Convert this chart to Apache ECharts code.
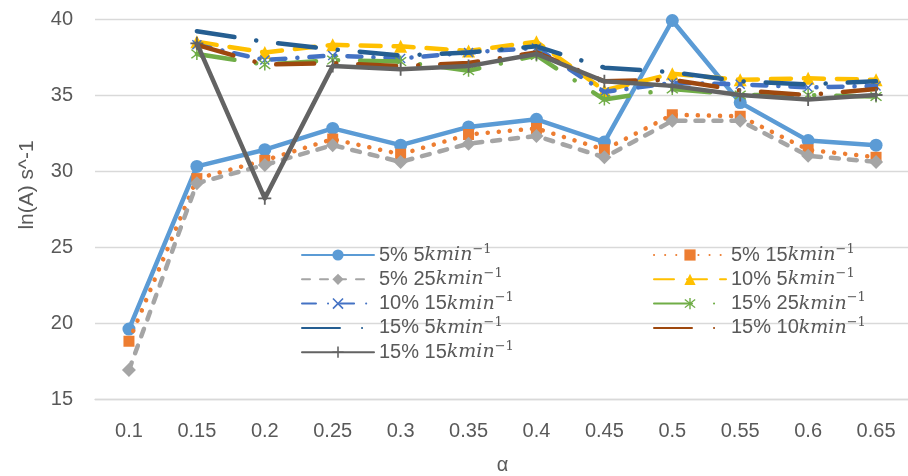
<!DOCTYPE html>
<html>
<head>
<meta charset="utf-8">
<title>ln(A) vs α</title>
<script src="https://cdn.jsdelivr.net/npm/echarts@6.0.0/dist/echarts.min.js"></script>
<style>
  html, body { margin: 0; padding: 0; background: #ffffff; }
  #chart { width: 908px; height: 476px; }
</style>
</head>
<body>
<div id="chart"></div>
<script>
// α categories along the x axis
const alpha = ['0.1', '0.15', '0.2', '0.25', '0.3', '0.35', '0.4', '0.45', '0.5', '0.55', '0.6', '0.65'];

// ln(A) values per heating-rate / concentration series
const s5_5k   = [19.6, 30.3, 31.4, 32.8, 31.7, 32.9, 33.4, 31.9, 39.9, 34.5, 32.0, 31.7];
const s5_15k  = [18.8, 29.5, 30.7, 32.1, 31.1, 32.4, 32.8, 31.4, 33.7, 33.6, 31.4, 30.9];
const s5_25k  = [16.9, 29.2, 30.4, 31.7, 30.6, 31.8, 32.3, 30.9, 33.3, 33.3, 31.0, 30.6];
const s10_5k  = [null, 38.5, 37.8, 38.3, 38.2, 37.9, 38.5, 35.3, 36.4, 36.0, 36.1, 36.0];
const s10_15k = [null, 38.3, 37.3, 37.6, 37.4, 37.8, 38.1, 35.2, 35.8, 35.7, 35.5, 35.6];
const s15_25k = [null, 37.7, 37.0, 37.3, 37.2, 36.6, 37.6, 34.7, 35.4, 35.0, 35.0, 34.9];
const s15_5k  = [null, 39.2, 38.5, 38.0, 37.6, 37.8, 38.2, 36.8, 36.5, 35.9, 35.7, 35.9];
const s15_10k = [null, 38.3, 37.0, 37.1, 36.9, 37.1, 37.8, 35.9, 36.0, 35.3, 35.0, 35.4];
const s15_15k = [null, 38.4, 28.2, 36.9, 36.7, 36.9, 37.7, 35.9, 35.6, 35.0, 34.7, 35.0];

// y axis ticks
const yTicks = [15, 20, 25, 30, 35, 40];

const UNIT = 'kmin−1';
const names = [
  '5% 5' + UNIT, '5% 15' + UNIT, '5% 25' + UNIT,
  '10% 5' + UNIT, '10% 15' + UNIT, '15% 25' + UNIT,
  '15% 5' + UNIT, '15% 10' + UNIT, '15% 15' + UNIT
];
const values = [s5_5k, s5_15k, s5_25k, s10_5k, s10_15k, s15_25k, s15_5k, s15_10k, s15_15k];

// marker shapes
const X_MARK = 'path://M1,0L5,4L9,0L10,1L6,5L10,9L9,10L5,6L1,10L0,9L4,5L0,1Z';
const STAR_MARK = 'path://M1,1L5,4.2L9,1L9.8,1.8L5.8,5L9.8,8.2L9,9L5,5.8L1,9L0.2,8.2L4.2,5L0.2,1.8Z M4.4,0L5.6,0L5.6,10L4.4,10Z';
const PLUS_MARK = 'path://M4.3,0L5.7,0L5.7,4.3L10,4.3L10,5.7L5.7,5.7L5.7,10L4.3,10L4.3,5.7L0,5.7L0,4.3L4.3,4.3Z';

const styles = [
  { color: '#5B9BD5', dash: 'solid',              symbol: 'circle',   size: 13 },
  { color: '#ED7D31', dash: [0.1, 11],            symbol: 'rect',     size: 11 },
  { color: '#A5A5A5', dash: [8, 10],              symbol: 'diamond',  size: 14 },
  { color: '#FFC000', dash: [20, 13],             symbol: 'triangle', size: 13 },
  { color: '#4472C4', dash: [14, 12, 0.1, 12],    symbol: X_MARK,     size: 10 },
  { color: '#70AD47', dash: [38, 22, 0.1, 22],    symbol: STAR_MARK,  size: 12 },
  { color: '#255E91', dash: [38, 22, 0.1, 22],    symbol: 'none',     size: 0 },
  { color: '#9E480E', dash: [38, 22, 0.1, 22],    symbol: 'none',     size: 0 },
  { color: '#636363', dash: 'solid',              symbol: PLUS_MARK,  size: 13 }
];

const TEXT = '#595959';
const FONT = 'Liberation Sans';
const GRID_LINE = '#D9D9D9';

const series = names.map((name, i) => {
  const st = styles[i];
  return {
    name: name,
    type: 'line',
    data: values[i],
    symbol: st.symbol,
    symbolSize: st.size,
    showSymbol: st.symbol !== 'none',
    lineStyle: { color: st.color, width: 4.5, type: st.dash, cap: 'round', join: 'round' },
    itemStyle: { color: st.color, borderColor: st.color, borderWidth: 0 },
    emphasis: { disabled: true },
    animation: false,
    z: 2 + i
  };
});

const legendText = {
  color: TEXT,
  fontFamily: FONT,
  fontSize: 20,
  rich: {
    a: { fontFamily: FONT, fontSize: 20, color: TEXT, lineHeight: 24 },
    k: { fontFamily: 'DejaVu Serif', fontStyle: 'italic', fontSize: 19, color: TEXT, lineHeight: 24 },
    s: { fontFamily: 'DejaVu Serif', fontSize: 13, color: TEXT, lineHeight: 10, verticalAlign: 'top' }
  }
};
const legendFormatter = (name) => {
  const prefix = name.replace(UNIT, '');
  return '{a|' + prefix + '}{k|kmin}{s|−1}';
};

// legend entry; series drawn without markers get a line-only key
const legendItem = (i) => {
  if (styles[i].symbol === 'none') {
    return {
      name: names[i],
      itemStyle: { color: 'rgba(0,0,0,0)', borderColor: 'rgba(0,0,0,0)', borderWidth: 0, opacity: 0 }
    };
  }
  return { name: names[i] };
};

const legendBase = {
  orient: 'vertical',
  top: 243,
  padding: 0,
  itemWidth: 72,
  itemHeight: 14,
  itemGap: 2.3,
  textStyle: legendText,
  formatter: legendFormatter,
  selectedMode: false
};

const chart = echarts.init(document.getElementById('chart'), null, { renderer: 'canvas' });
chart.setOption({
  backgroundColor: '#ffffff',
  animation: false,
  grid: { left: 95, top: 19, width: 815, bottom: 77, containLabel: false, outerBoundsMode: 'none' },
  legend: [
    Object.assign({}, legendBase, { left: 301, data: [0, 2, 4, 6, 8].map(legendItem) }),
    Object.assign({}, legendBase, { left: 653, data: [1, 3, 5, 7].map(legendItem) })
  ],
  xAxis: {
    type: 'category',
    data: alpha,
    boundaryGap: true,
    name: 'α',
    nameLocation: 'middle',
    nameGap: 56,
    nameTextStyle: { color: TEXT, fontFamily: FONT, fontSize: 20 },
    axisLine: { lineStyle: { color: GRID_LINE, width: 1.3 } },
    axisTick: { show: false },
    axisLabel: { color: TEXT, fontFamily: FONT, fontSize: 20, margin: 22 }
  },
  yAxis: {
    type: 'value',
    min: yTicks[0],
    max: yTicks[yTicks.length - 1],
    interval: yTicks[1] - yTicks[0],
    name: 'ln(A) s^-1',
    nameLocation: 'middle',
    nameGap: 57,
    nameTextStyle: { color: TEXT, fontFamily: FONT, fontSize: 21, padding: [0, 0, 0, 48] },
    axisLine: { show: false },
    axisTick: { show: false },
    splitLine: { lineStyle: { color: GRID_LINE, width: 1.3 } },
    axisLabel: { color: TEXT, fontFamily: FONT, fontSize: 20, margin: 22 }
  },
  series: series
});
</script>
</body>
</html>
